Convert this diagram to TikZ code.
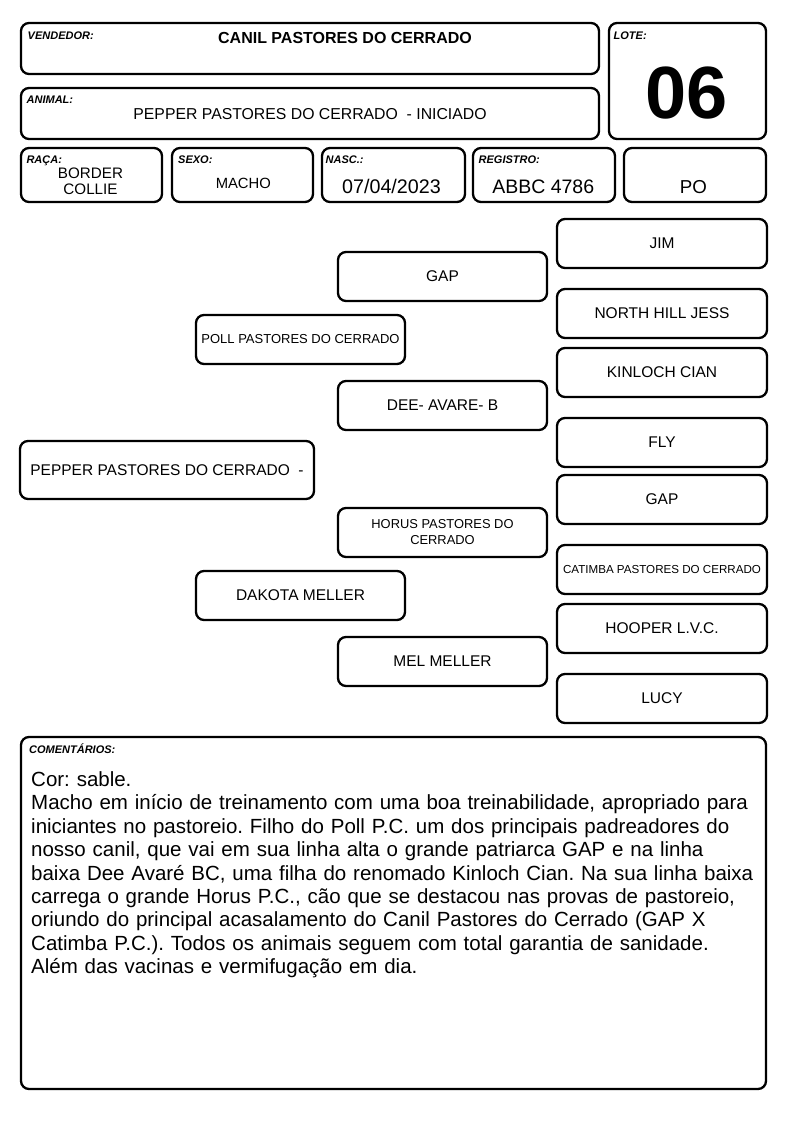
\documentclass[tikz,border=0pt]{standalone}
\usepackage{fontspec}
\setmainfont{Liberation Sans}
\frenchspacing
\tikzset{
  box/.style={draw, line width=2.3pt, rounded corners=8pt, inner sep=0pt},
  lbl/.style={anchor=base west, inner sep=0pt, font=\fontsize{11}{12}\selectfont\bfseries\itshape},
  val/.style={anchor=base, inner sep=0pt},
  ptext/.style={inner sep=0pt, align=center, font=\fontsize{15.5}{18}\selectfont},
}
\begin{document}
\begin{tikzpicture}[x=1pt,y=-1pt]
\useasboundingbox[fill=white] (0,0) rectangle (794,1123);
% header boxes
\node[box, minimum width=578, minimum height=51] (vend) at (310,48.5) {};
\node[box, minimum width=157, minimum height=116] (lote) at (687.5,81) {};
\node[box, minimum width=578, minimum height=51] (animal) at (310,113.5) {};
\node[box, minimum width=141, minimum height=54] (raca) at (91.5,175) {};
\node[box, minimum width=141, minimum height=54] (sexo) at (242.5,175) {};
\node[box, minimum width=143, minimum height=54] (nasc) at (393.5,175) {};
\node[box, minimum width=142, minimum height=54] (reg) at (544,175) {};
\node[box, minimum width=142, minimum height=54] (po) at (695,175) {};
% labels
\node[lbl] (lvend) at (27.5,39.3) {VENDEDOR:};
\node[lbl] (llote) at (613.5,39.3) {LOTE:};
\node[lbl] (lanimal) at (26.5,103.3) {ANIMAL:};
\node[lbl] (lraca) at (26.3,163.3) {RAÇA:};
\node[lbl] (lsexo) at (178,163.3) {SEXO:};
\node[lbl] (lnasc) at (325.5,163.3) {NASC.:};
\node[lbl] (lreg) at (478.5,163.3) {REGISTRO:};
% values
\node[val, font=\fontsize{16}{18}\selectfont\bfseries] (tvend) at (345,43.3) {CANIL PASTORES DO CERRADO};
\node[val, font=\fontsize{74}{80}\selectfont\bfseries] (tlote) at (686.7,118.3) {06};
\node[val, font=\fontsize{15.8}{18}\selectfont] (tanimal) at (310,119.3) {PEPPER PASTORES DO CERRADO~ - INICIADO};
\node[inner sep=0pt, align=center, font=\fontsize{15.2}{16.7}\selectfont] (traca) at (90.5,181.2) {BORDER\\COLLIE};
\node[val, font=\fontsize{14.8}{17}\selectfont] (tsexo) at (243.3,188.7) {MACHO};
\node[val, font=\fontsize{19.7}{22}\selectfont] (tnasc) at (391.5,193.3) {07/04/2023};
\node[val, font=\fontsize{19.5}{22}\selectfont] (treg) at (543.2,193.3) {ABBC 4786};
\node[val, font=\fontsize{18.7}{22}\selectfont] (tpo) at (693.4,193.3) {PO};
% pedigree
\node[box, ptext, minimum width=294, minimum height=58] (pepper) at (167,470) {PEPPER PASTORES DO CERRADO~ -};
\node[box, ptext, minimum width=209, minimum height=49, font=\fontsize{13}{16}\selectfont] (poll) at (300.5,339.5) {POLL PASTORES DO CERRADO};
\node[box, ptext, minimum width=209, minimum height=49] (dakota) at (300.5,595.5) {DAKOTA MELLER};
\node[box, ptext, minimum width=209, minimum height=49] (gap2) at (442.5,276.5) {GAP};
\node[box, ptext, minimum width=209, minimum height=49] (dee) at (442.5,405.5) {DEE- AVARE- B};
\node[box, ptext, minimum width=209, minimum height=49, font=\fontsize{12.9}{16}\selectfont] (horus) at (442.5,532.5) {HORUS PASTORES DO\\CERRADO};
\node[box, ptext, minimum width=209, minimum height=49] (mel) at (442.5,661.5) {MEL MELLER};
\node[box, ptext, minimum width=210, minimum height=49] (jim) at (662,243.5) {JIM};
\node[box, ptext, minimum width=210, minimum height=49] (nhj) at (662,313.5) {NORTH HILL JESS};
\node[box, ptext, minimum width=210, minimum height=49] (kinloch) at (662,372.5) {KINLOCH CIAN};
\node[box, ptext, minimum width=210, minimum height=49] (fly) at (662,442.5) {FLY};
\node[box, ptext, minimum width=210, minimum height=49] (gap3) at (662,499.5) {GAP};
\node[box, ptext, minimum width=210, minimum height=49, font=\fontsize{11.6}{14}\selectfont] (catimba) at (662,569.5) {CATIMBA PASTORES DO CERRADO};
\node[box, ptext, minimum width=210, minimum height=49] (hooper) at (662,628.5) {HOOPER L.V.C.};
\node[box, ptext, minimum width=210, minimum height=49] (lucy) at (662,698.5) {LUCY};
% comments
\node[box, minimum width=745, minimum height=352] (coment) at (393.5,913) {};
\node[lbl] (lcoment) at (29,753.3) {COMENTÁRIOS:};
\node[anchor=north west, inner sep=0pt, text width=745pt, align=left, font=\fontsize{20.5}{23.4}\selectfont] (tcoment) at (31,771.5) {Cor: sable.\\
Macho em início de treinamento com uma boa treinabilidade, apropriado para\\
iniciantes no pastoreio. Filho do Poll P.C. um dos principais padreadores do\\
nosso canil, que vai em sua linha alta o grande patriarca GAP e na linha\\
baixa Dee Avaré BC, uma filha do renomado Kinloch Cian. Na sua linha baixa\\
carrega o grande Horus P.C., cão que se destacou nas provas de pastoreio,\\
oriundo do principal acasalamento do Canil Pastores do Cerrado (GAP X\\
Catimba P.C.). Todos os animais seguem com total garantia de sanidade.\\
Além das vacinas e vermifugação em dia.};
\end{tikzpicture}
\end{document}
